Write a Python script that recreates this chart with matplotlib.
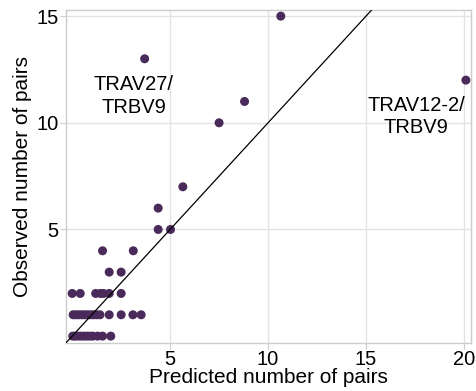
import matplotlib
matplotlib.use("Agg")
import matplotlib.pyplot as plt

plt.rcParams["font.family"] = ["Liberation Sans", "DejaVu Sans"]

# predicted vs observed number of pairs, grouped by observed count
obs_0 = [0.03, 0.15, 0.3, 0.45, 0.6, 0.75, 0.9, 1.05, 1.3, 1.55, 1.97]
obs_1 = [0.05, 0.2, 0.35, 0.5, 0.65, 0.8, 0.95, 1.1, 1.25, 1.42, 1.89, 2.5, 3.1, 3.52]
obs_2 = [0.0, 0.41, 1.2, 1.45, 1.6, 1.89, 2.5]
obs_3 = [1.89, 2.5]
obs_4 = [1.55, 3.12]
high_pred = [4.39, 5.02, 4.39, 5.65, 7.5, 8.8, 20.1, 3.7, 10.65]
high_obs = [5, 5, 6, 7, 10, 11, 12, 13, 15]

pred = obs_0 + obs_1 + obs_2 + obs_3 + obs_4 + high_pred
observed = ([0] * len(obs_0) + [1] * len(obs_1) + [2] * len(obs_2)
            + [3] * len(obs_3) + [4] * len(obs_4) + high_obs)

labels = [("TRAV27/\nTRBV9", 3.15, 11.27), ("TRAV12-2/\nTRBV9", 17.55, 10.29)]

fig = plt.figure(figsize=(4.77, 3.91), dpi=100)
ax = fig.add_axes([0.139, 0.124, 0.848, 0.850])

ax.scatter(pred, observed, s=42, color="#4a2a5a", edgecolors="none", zorder=3)
ax.axline((0, 0), slope=1, color="black", lw=0.9, zorder=4)

for txt, x, y in labels:
    ax.text(x, y, txt, ha="center", va="center", fontsize=14.5, linespacing=1.25)

ax.set_xlim(-0.3, 20.35)
ax.set_ylim(-0.3, 15.28)
ax.set_xticks([5, 10, 15, 20])
ax.set_yticks([5, 10, 15])
ax.grid(color="#e3e3e3", lw=1.0, zorder=0)
ax.set_axisbelow(True)
for sp in ax.spines.values():
    sp.set_color("#cccccc")
    sp.set_linewidth(1.0)
ax.tick_params(length=4, width=0.8, color="#cccccc", labelsize=14.5, labelcolor="black", pad=1.5)

ax.set_xlabel("Predicted number of pairs", fontsize=15, labelpad=-1)
ax.set_ylabel("Observed number of pairs", fontsize=15, labelpad=3)

fig.savefig("out.png", dpi=100)
